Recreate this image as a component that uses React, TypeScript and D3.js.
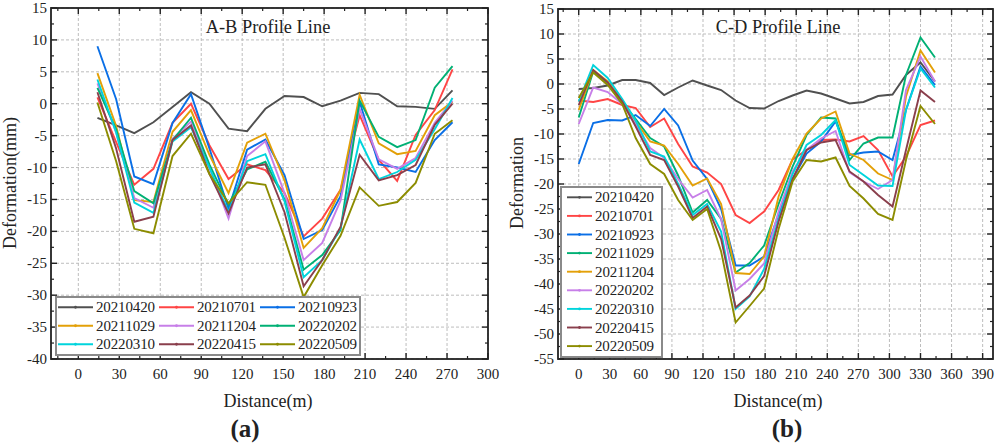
import * as d3 from "d3";

const dates = ["20210420", "20210701", "20210923", "20211029", "20211204", "20220202", "20220310", "20220415", "20220509"];
// the two panels give the 2021-10 to 2022-02 dates different colours
const abColors = ["#505050", "#ff4545", "#0a6fe6", "#e3a008", "#c77fe8", "#00b074", "#00d4dc", "#8a3f4c", "#8c8c00"];
const cdColors = ["#505050", "#ff4545", "#0a6fe6", "#00b074", "#e3a008", "#c77fe8", "#00d4dc", "#8a3f4c", "#8c8c00"];

// A-B profile
const abDistance = [14, 27.7, 41, 55, 69, 82.5, 96, 110, 123.6, 137, 151, 165, 178.6, 192, 206, 220, 233.5, 247, 261, 274];
const ab0420 = [-2.2, -3.4, -4.6, -2.9, -0.5, 1.8, 0, -3.9, -4.3, -0.8, 1.2, 1.05, -0.4, 0.5, 1.7, 1.5, -0.4, -0.5, -0.8, 2.1];
const ab0701 = [1, -6, -12.7, -10.2, -3, 0, -6.5, -11.8, -9.5, -10.4, -14, -20.8, -18, -13.5, -1.8, -8.8, -12.1, -4.9, -1, 5.4];
const ab0923 = [9, 0.7, -11.4, -12.6, -3, 1.5, -7, -16.5, -7.2, -5.6, -11.2, -21.2, -19.8, -14.5, 0.3, -9.5, -10, -10.7, -5.7, -2.9];
const ab1029 = [4.8, -3.5, -15.1, -15.4, -4.4, -1, -8, -14, -6.1, -4.7, -12, -22.6, -19.5, -13.5, 1.4, -6.2, -7.9, -7.4, -1.8, 0.3];
const ab1204 = [3.2, -4.5, -14.8, -16.3, -5.5, -2.8, -10, -18, -8.2, -5.9, -14, -24.5, -21.8, -15.2, -0.8, -8.7, -10.2, -8.5, -3, 0.5];
const ab0202 = [2.5, -4, -13.7, -15.6, -5.7, -2.2, -9.5, -15.8, -10.3, -9.1, -15, -26, -23.7, -19.8, 0.5, -5.2, -6.8, -5.7, 2.5, 5.9];
const ab0310 = [3.8, -4.5, -15.5, -17.1, -5.9, -3.7, -10, -17, -9, -7.9, -15.3, -27.2, -24.5, -19.5, -5.6, -11.8, -10.7, -8.8, -4, 0.9];
const ab0415 = [1.8, -7, -18.5, -17.7, -5.7, -3.4, -11, -17.2, -10, -9.5, -17, -28.6, -24.5, -19.3, -8, -12, -11.2, -9.6, -3.3, 0];
const ab0509 = [0.2, -9, -19.6, -20.3, -8.2, -4.7, -11, -15.6, -12.3, -12.7, -21, -30.3, -25.3, -20.7, -13.1, -16, -15.4, -12.4, -4.7, -2.6];
const abSeries = [ab0420, ab0701, ab0923, ab1029, ab1204, ab0202, ab0310, ab0415, ab0509];

// C-D profile
const cdDistance = [0, 14, 28, 42, 55, 69, 82.5, 96, 110, 124, 137.5, 151.5, 165, 179, 193, 206.5, 220, 234, 248, 261.5, 275, 289, 303, 316, 330, 344];
const cd0420 = [-1, -0.8, -0.3, 0.8, 0.8, 0.2, -2.2, -0.7, 0.7, -0.3, -1.2, -3.3, -4.8, -4.9, -3.4, -2.3, -1.3, -1.9, -2.9, -3.9, -3.6, -2.4, -2.1, 1.8, 4.3, 0.5];
const cd0701 = [-3.3, -3.6, -3, -4.2, -4.8, -8.6, -6.9, -12, -16.5, -17.7, -20, -26.2, -27.8, -25.5, -21.2, -15.1, -13.2, -11.2, -11.1, -11.5, -10.4, -13.2, -18.5, -14.5, -8.2, -7.3];
const cd0923 = [-16, -7.8, -7.2, -7.3, -6.2, -8.4, -5, -8.3, -15.3, -19, -25, -36.3, -36.3, -34.5, -26, -19, -13.9, -11.5, -7.5, -14.2, -13.7, -13.5, -15.2, -5.2, 3.5, -0.2];
const cd1029 = [-6.7, 2.5, 0.3, -3.5, -7, -10.8, -12.5, -18.3, -25.7, -23.2, -27, -37.7, -35.8, -32.3, -24, -16.5, -10.2, -6.7, -6.9, -15.2, -11.9, -10.7, -10.7, 1.8, 9.3, 5.3];
const cd1204 = [-5.2, 2.8, 0.5, -3.3, -7.5, -11.5, -12.3, -16, -20.3, -18.9, -24, -37.8, -38, -34.5, -22.5, -15, -9.9, -6.9, -5.5, -13.9, -15.2, -17.9, -19.2, -2.5, 6.7, 2.3];
const cd0202 = [-8, -0.7, -1.6, -4, -8, -12.8, -14.8, -19, -22.7, -21.2, -27, -41.3, -39, -35.9, -25.5, -17.5, -13.2, -10.9, -9.4, -17.7, -19.5, -21, -19.2, -1.2, 5.5, 0.5];
const cd0310 = [-3.5, 3.8, 1.2, -3, -7.3, -13.5, -14.5, -20, -26.2, -24, -29.5, -45, -42.5, -37, -27, -18, -12.2, -10.2, -7.2, -16.2, -18.2, -20.3, -20.4, -5.2, 3.1, -0.7];
const cd0415 = [-4.2, 2.8, 0.3, -3.5, -8.5, -14.2, -15.2, -20.5, -26.8, -24.5, -31, -44.7, -42.3, -38.4, -27.5, -19, -13.2, -11.7, -11.2, -17.5, -19.5, -22.2, -24.5, -13.2, -1.3, -3.6];
const cd0509 = [-2.8, 2.3, -0.2, -4, -10.8, -16, -18, -23.2, -27.2, -25, -33.5, -47.7, -44.4, -40.9, -29, -19.5, -15.2, -15.5, -14.7, -20.4, -22.9, -26, -27.2, -15.2, -4.4, -8];
const cdSeries = [cd0420, cd0701, cd0923, cd1029, cd1204, cd0202, cd0310, cd0415, cd0509];

const serif = "'Liberation Serif', serif";
const ink = "#222";

function range(start: number, stop: number, step: number) {
  return d3.range(start, stop + step / 2, step);
}

interface LegendBox {
  x: number;
  y: number;
  w: number;
  h: number;
  cols: number;
  colW: number;
  rowH: number;
  inset: number;
  lineW: number;
}

interface PanelProps {
  box: { left: number; right: number; top: number; bottom: number };
  xDomain: [number, number];
  yDomain: [number, number];
  xMajor: number[];
  xMinor: number[];
  yMajor: number[];
  yMinor: number[];
  distance: number[];
  series: number[][];
  colors: string[];
  title: string;
  titleX: number;
  yTitle: string;
  yTitleY: number;
  xTitleX: number;
  tag: string;
  tagX: number;
  legend: LegendBox;
}

function Panel(p: PanelProps) {
  const { box, legend, colors } = p;
  const x = d3.scaleLinear().domain(p.xDomain).range([box.left, box.right]);
  const y = d3.scaleLinear().domain(p.yDomain).range([box.bottom, box.top]);
  const line = d3
    .line<number>()
    .x((_, i) => x(p.distance[i]))
    .y((d) => y(d));

  return (
    <g fontFamily={serif} fill={ink}>
      {/* grid */}
      {p.xMajor.map((t) => (
        <line key={t} x1={x(t)} x2={x(t)} y1={box.top} y2={box.bottom} stroke="#bdbdbd" strokeWidth={1} strokeDasharray="3 2" />
      ))}
      {p.yMajor.map((t) => (
        <line key={t} x1={box.left} x2={box.right} y1={y(t)} y2={y(t)} stroke="#bdbdbd" strokeWidth={1} strokeDasharray="3 2" />
      ))}

      {p.series.map((values, i) => (
        <path key={dates[i]} d={line(values) ?? ""} fill="none" stroke={colors[i]} strokeWidth={1.9} strokeLinejoin="miter" />
      ))}

      {/* ticks, mirrored on all four sides */}
      {p.xMajor.map((t) => (
        <g key={t} stroke={ink} strokeWidth={1.4}>
          <line x1={x(t)} x2={x(t)} y1={box.bottom} y2={box.bottom - 6} />
          <line x1={x(t)} x2={x(t)} y1={box.top} y2={box.top + 6} />
        </g>
      ))}
      {p.xMinor.map((t) => (
        <g key={t} stroke={ink} strokeWidth={1.2}>
          <line x1={x(t)} x2={x(t)} y1={box.bottom} y2={box.bottom - 3} />
          <line x1={x(t)} x2={x(t)} y1={box.top} y2={box.top + 3} />
        </g>
      ))}
      {p.yMajor.map((t) => (
        <g key={t} stroke={ink} strokeWidth={1.4}>
          <line x1={box.left} x2={box.left + 6} y1={y(t)} y2={y(t)} />
          <line x1={box.right} x2={box.right - 6} y1={y(t)} y2={y(t)} />
        </g>
      ))}
      {p.yMinor.map((t) => (
        <g key={t} stroke={ink} strokeWidth={1.2}>
          <line x1={box.left} x2={box.left + 3} y1={y(t)} y2={y(t)} />
          <line x1={box.right} x2={box.right - 3} y1={y(t)} y2={y(t)} />
        </g>
      ))}
      <rect x={box.left} y={box.top} width={box.right - box.left} height={box.bottom - box.top} fill="none" stroke={ink} strokeWidth={1.8} />

      {/* tick labels */}
      {p.xMajor.map((t) => (
        <text key={t} x={x(t)} y={box.bottom + 20} textAnchor="middle" fontSize={15}>
          {t}
        </text>
      ))}
      {p.yMajor.map((t) => (
        <text key={t} x={box.left - 4} y={y(t) + 5} textAnchor="end" fontSize={15}>
          {t}
        </text>
      ))}

      <text x={p.titleX} y={33} textAnchor="middle" fontSize={18.4}>
        {p.title}
      </text>
      <text x={p.xTitleX} y={407} textAnchor="middle" fontSize={18}>
        Distance(m)
      </text>
      <text transform={`translate(${box.left - 35},${p.yTitleY}) rotate(-90)`} textAnchor="middle" fontSize={18}>
        {p.yTitle}
      </text>
      <text x={p.tagX} y={437} textAnchor="middle" fontSize={25} fontWeight="bold">
        {p.tag}
      </text>

      {/* legend */}
      <rect x={legend.x} y={legend.y} width={legend.w} height={legend.h} fill="#fff" stroke="#8a8a8a" strokeWidth={2} />
      {dates.map((d, i) => {
        const col = i % legend.cols;
        const row = Math.floor(i / legend.cols);
        const lx = legend.x + legend.inset + col * legend.colW;
        const ly = legend.y + legend.rowH * (row + 0.5) + 1;
        return (
          <g key={d}>
            <line x1={lx} x2={lx + legend.lineW} y1={ly} y2={ly} stroke={colors[i]} strokeWidth={1.9} />
            <circle cx={lx + legend.lineW / 2} cy={ly} r={1.4} fill={colors[i]} />
            <text x={lx + legend.lineW + 3} y={ly + 5} fontSize={15} textLength={59}>
              {d}
            </text>
          </g>
        );
      })}
    </g>
  );
}

export default function App() {
  return (
    <svg width={996} height={445} style={{ position: "absolute", left: 0, top: 0, background: "#fff" }}>
      <Panel
        box={{ left: 51, right: 488, top: 8, bottom: 359 }}
        xDomain={[-20, 300]}
        yDomain={[-40, 15]}
        xMajor={range(0, 300, 30)}
        xMinor={range(-15, 285, 30)}
        yMajor={range(-40, 15, 5)}
        yMinor={range(-37.5, 12.5, 5)}
        distance={abDistance}
        series={abSeries}
        colors={abColors}
        title="A-B Profile Line"
        titleX={268}
        yTitle="Deformation(mm)"
        yTitleY={183}
        xTitleX={268}
        tag="(a)"
        tagX={245}
        legend={{ x: 56, y: 297, w: 304, h: 58, cols: 3, colW: 101, rowH: 18.5, inset: 2, lineW: 35 }}
      />
      <Panel
        box={{ left: 558, right: 993, top: 9, bottom: 359 }}
        xDomain={[-20, 400]}
        yDomain={[-55, 15]}
        xMajor={range(0, 390, 30)}
        xMinor={range(-15, 375, 30)}
        yMajor={range(-55, 15, 5)}
        yMinor={range(-52.5, 12.5, 5)}
        distance={cdDistance}
        series={cdSeries}
        colors={cdColors}
        title="C-D Profile Line"
        titleX={778}
        yTitle="Deformation"
        yTitleY={183}
        xTitleX={778}
        tag="(b)"
        tagX={787}
        legend={{ x: 561, y: 187, w: 101, h: 170, cols: 1, colW: 101, rowH: 18.6, inset: 6, lineW: 25 }}
      />
    </svg>
  );
}
